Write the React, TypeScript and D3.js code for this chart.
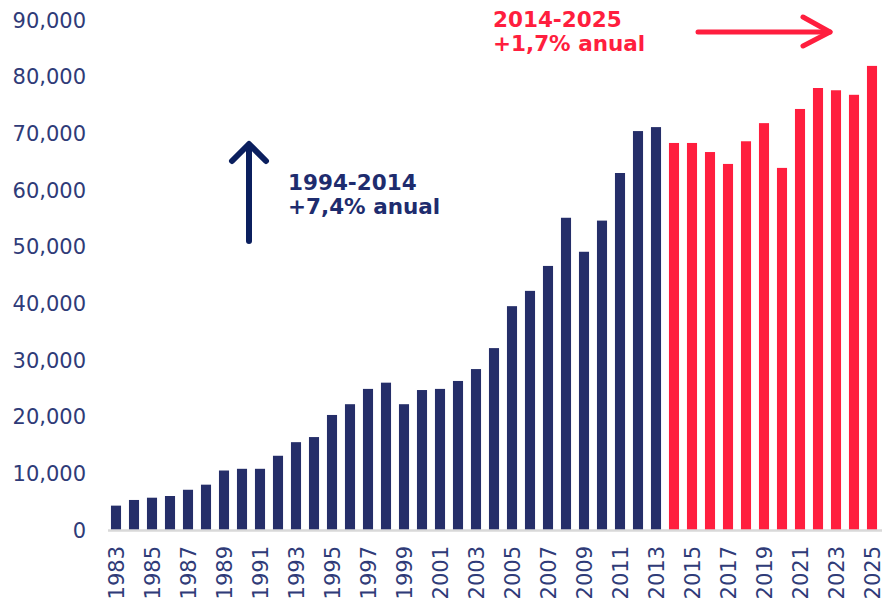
import React from "react";
import * as d3 from "d3";

const years: number[] = [
  1983, 1984, 1985, 1986, 1987, 1988, 1989, 1990, 1991, 1992, 1993, 1994, 1995, 1996, 1997,
  1998, 1999, 2000, 2001, 2002, 2003, 2004, 2005, 2006, 2007, 2008, 2009, 2010, 2011, 2012,
  2013, 2014, 2015, 2016, 2017, 2018, 2019, 2020, 2021, 2022, 2023, 2024, 2025,
];
const values: number[] = [
  4300, 5300, 5700, 6000, 7100, 8000, 10500, 10800, 10800, 13100, 15500, 16400, 20300, 22200, 24900,
  26000, 22200, 24700, 24900, 26300, 28400, 32100, 39500, 42200, 46600, 55100, 49100, 54600, 63000, 70400,
  71100, 68300, 68300, 66700, 64600, 68600, 71800, 63900, 74300, 78000, 77600, 76800, 81900,
];
const yTicks: number[] = [0, 10000, 20000, 30000, 40000, 50000, 60000, 70000, 80000, 90000];
const xTickYears: number[] = years.filter((y) => (y - 1983) % 2 === 0);
const splitYear = 2014;
const blueLabel: string[] = ["1994-2014", "+7,4% anual"];
const redLabel: string[] = ["2014-2025", "+1,7% anual"];

const W = 884;
const H = 605;
const BLUE = "#252E69";
const RED = "#FF1E3E";
const AXIS_TEXT = "#2F3B78";
const FONT = "Verdana, 'DejaVu Sans', sans-serif";

export default function App() {
  const x = d3
    .scaleBand<number>()
    .domain(years)
    .range([107, 881])
    .paddingInner(0.44)
    .paddingOuter(0.22);
  const y = d3.scaleLinear().domain([0, 90000]).range([530, 20]);
  const fmt = d3.format(",");

  return (
    <svg
      width={W}
      height={H}
      style={{ position: "absolute", left: 0, top: 0, background: "#fff" }}
      fontFamily={FONT}
    >
      {/* bars */}
      {years.map((yr, i) => (
        <rect
          key={yr}
          x={x(yr)}
          y={y(values[i])}
          width={x.bandwidth()}
          height={y(0) - y(values[i])}
          fill={yr >= splitYear ? RED : BLUE}
        />
      ))}
      {/* baseline */}
      <line x1={108} x2={882} y1={y(0) + 0.5} y2={y(0) + 0.5} stroke="#D9D9D9" strokeWidth={2.5} />
      {/* y ticks */}
      {yTicks.map((t) => (
        <text
          key={t}
          x={86}
          y={y(t)}
          dy="0.36em"
          textAnchor="end"
          fontSize={21}
          fill={AXIS_TEXT}
        >
          {fmt(t)}
        </text>
      ))}
      {/* x ticks */}
      {xTickYears.map((yr) => (
        <text
          key={yr}
          transform={`translate(${(x(yr) as number) + x.bandwidth() / 2},546) rotate(-90)`}
          dy="0.36em"
          textAnchor="end"
          fontSize={21}
          fill={AXIS_TEXT}
        >
          {yr}
        </text>
      ))}
      {/* blue annotation */}
      <g stroke="#0B1F5E" strokeWidth={6} strokeLinecap="round" strokeLinejoin="round" fill="none">
        <line x1={249} y1={241} x2={249} y2={145} />
        <polyline points="232,161 249,144 266,161" />
      </g>
      <text x={288} y={190} fontSize={21.5} fontWeight="bold" fill="#1E2C6E">
        {blueLabel[0]}
      </text>
      <text x={288} y={214} fontSize={21.5} fontWeight="bold" fill="#1E2C6E">
        {blueLabel[1]}
      </text>
      {/* red annotation */}
      <g stroke={RED} strokeWidth={5} strokeLinecap="round" strokeLinejoin="round" fill="none">
        <line x1={698} y1={32} x2={830} y2={32} />
        <polyline points="803,17 830,32 803,46" />
      </g>
      <text x={493} y={27} fontSize={21.5} fontWeight="bold" fill={RED}>
        {redLabel[0]}
      </text>
      <text x={493} y={51} fontSize={21.5} fontWeight="bold" fill={RED}>
        {redLabel[1]}
      </text>
    </svg>
  );
}
